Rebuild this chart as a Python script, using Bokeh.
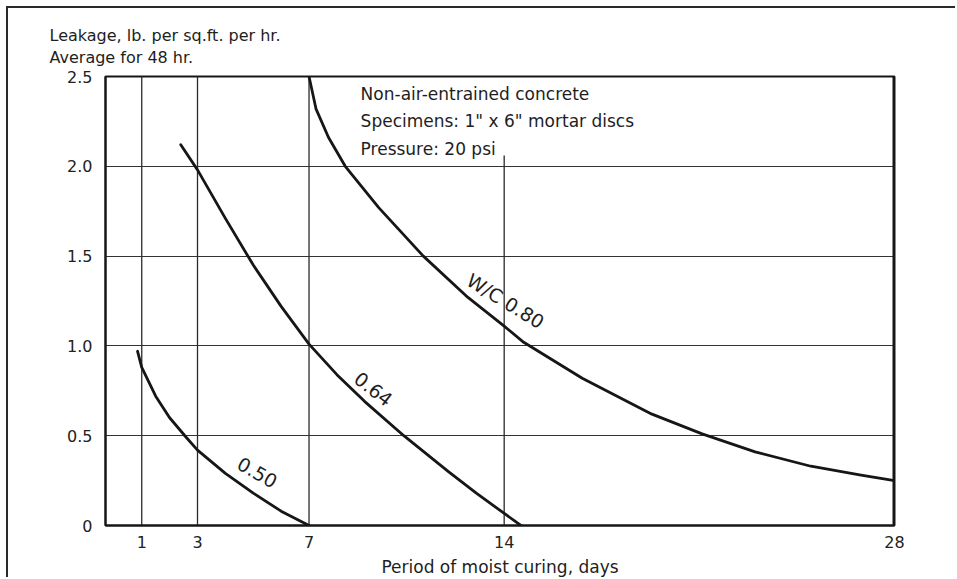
from bokeh.plotting import figure
from bokeh.models import Label, FixedTicker, CustomJSTickFormatter, Title
from bokeh.embed import file_html
from bokeh.resources import INLINE

# Leakage (lb per sq ft per hr, 48-hr average) vs. period of moist curing (days)
days_050 = [0.85, 1.0, 1.5, 2.0, 2.6, 3.0, 4.0, 5.0, 6.0, 7.0]
leak_050 = [0.97, 0.88, 0.72, 0.60, 0.49, 0.42, 0.29, 0.18, 0.08, 0.0]

days_064 = [2.4, 3.0, 4.0, 5.0, 6.0, 7.0, 8.0, 9.0, 10.4, 12.0, 13.0, 14.6]
leak_064 = [2.12, 1.98, 1.71, 1.45, 1.22, 1.01, 0.84, 0.69, 0.50, 0.30, 0.18, 0.0]

days_080 = [7.0, 7.25, 7.7, 8.3, 9.5, 11.1, 12.7, 14.0, 14.7, 16.8, 19.3, 21.1, 23.0, 25.0, 26.8, 28.0]
leak_080 = [2.5, 2.32, 2.16, 2.0, 1.77, 1.5, 1.27, 1.11, 1.02, 0.82, 0.62, 0.51, 0.41, 0.33, 0.28, 0.25]

x_ticks = [1, 3, 7, 14, 28]
y_ticks = [0, 0.5, 1.0, 1.5, 2.0, 2.5]
grid_y = [0.5, 1.0, 1.5, 2.0]
grid_x = [1, 3, 7, 14]
grid_x_top = [2.5, 2.5, 2.5, 2.06]

curve_labels = ["0.50", "0.64", "W/C 0.80"]
curve_label_x = [5.15, 9.31, 14.05]
curve_label_y = [0.295, 0.76, 1.25]
curve_label_angle = [-0.52, -0.66, -0.55]

notes = ["Non-air-entrained concrete", 'Specimens: 1" x 6" mortar discs', "Pressure: 20 psi"]
notes_y = [2.405, 2.25, 2.094]

y_caption = ["Leakage, lb. per sq.ft. per hr.", "Average for 48 hr."]
x_caption = "Period of moist curing, days"

FONT = "DejaVu Sans"
INK = "#161616"

p = figure(width=949, height=571, x_range=(-0.3, 28), y_range=(0, 2.5),
           output_backend="svg", toolbar_location=None,
           min_border_left=97, min_border_right=63, min_border_top=68, min_border_bottom=54)
p.margin = (6, 0, 0, 6)
p.styles = {"border-left": "2px solid #2a2a2a", "border-top": "2px solid #2a2a2a"}

p.outline_line_color = INK
p.outline_line_width = 2
p.background_fill_color = "white"
p.border_fill_color = "white"

# horizontal rules
p.xgrid.visible = False
p.ygrid.ticker = FixedTicker(ticks=grid_y)
p.ygrid.grid_line_color = "#333333"
p.ygrid.grid_line_width = 1

# vertical rules at the tick days (the 14-day rule stops below the notes)
p.segment(x0=grid_x, y0=[0] * len(grid_x), x1=grid_x, y1=grid_x_top,
          line_color="#2a2a2a", line_width=1.3)

# heavier right-hand edge of the frame at 28 days
p.segment(x0=[28], y0=[0], x1=[28], y1=[2.5], line_color=INK, line_width=4)

for xs, ys in [(days_050, leak_050), (days_064, leak_064), (days_080, leak_080)]:
    p.line(xs, ys, line_color=INK, line_width=2.8, line_join="round", line_cap="round")

for ax in (p.xaxis, p.yaxis):
    ax.axis_line_color = INK
    ax.axis_line_width = 2
    ax.major_tick_out = 0
    ax.major_tick_in = 0
    ax.minor_tick_out = 0
    ax.minor_tick_in = 0
    ax.major_label_text_font = FONT
    ax.major_label_text_font_size = "16px"
    ax.major_label_text_color = "#222222"

p.xaxis.ticker = FixedTicker(ticks=x_ticks)
p.xaxis.major_label_standoff = 10
p.yaxis.ticker = FixedTicker(ticks=y_ticks)
p.yaxis.major_label_standoff = 13
p.yaxis.formatter = CustomJSTickFormatter(code="return tick == 0 ? '0' : tick.toFixed(1);")

p.xaxis.axis_label = x_caption
p.xaxis.axis_label_text_font = FONT
p.xaxis.axis_label_text_font_size = "17px"
p.xaxis.axis_label_text_font_style = "normal"
p.xaxis.axis_label_text_color = "#1e1e1e"
p.xaxis.axis_label_standoff = 6

# y-axis caption, two lines above the plot frame
p.add_layout(Title(text="\n".join(y_caption), align="left", offset=-56, standoff=18,
                   text_font=FONT, text_font_size="16px", text_font_style="normal",
                   text_line_height=1.2, text_color="#1e1e1e"), "above")

def add_text(x, y, text, size="17px", align="left", angle=0.0):
    p.add_layout(Label(x=x, y=y, text=text, text_font=FONT, text_font_size=size,
                       text_color="#1e1e1e", text_align=align, text_baseline="middle",
                       angle=angle))

for t, y in zip(notes, notes_y):
    add_text(8.85, y, t)

for t, x, y, a in zip(curve_labels, curve_label_x, curve_label_y, curve_label_angle):
    add_text(x, y, t, size="19px", align="center", angle=a)

open("out.html", "w").write(file_html(p, INLINE))
